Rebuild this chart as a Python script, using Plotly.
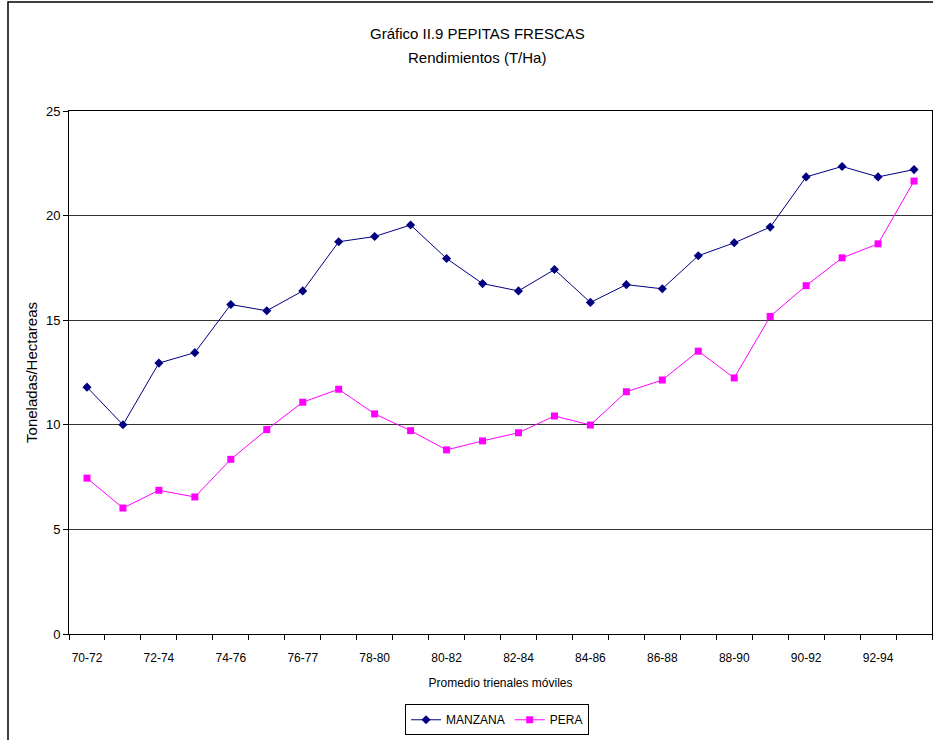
import plotly.graph_objects as go

categories = ["70-72", "71-73", "72-74", "73-75", "74-76", "75-77", "76-77", "77-79",
              "78-80", "79-81", "80-82", "81-83", "82-84", "83-85", "84-86", "85-87",
              "86-88", "87-89", "88-90", "89-91", "90-92", "91-93", "92-94", "93-95"]
manzana = [11.8, 10.0, 12.95, 13.45, 15.75, 15.45, 16.4, 18.75, 19.0, 19.55, 17.95, 16.75,
           16.4, 17.42, 15.85, 16.7, 16.5, 18.08, 18.7, 19.45, 21.85, 22.35, 21.85, 22.2]
pera = [7.45, 6.02, 6.87, 6.55, 8.35, 9.77, 11.08, 11.7, 10.52, 9.72, 8.8, 9.23,
        9.62, 10.42, 9.99, 11.58, 12.14, 13.52, 12.24, 15.18, 16.65, 17.98, 18.65, 21.65]
y_ticks = [0, 5, 10, 15, 20, 25]

FONT = "Liberation Sans, Arial, sans-serif"
xpos = list(range(len(categories)))

fig = go.Figure()
fig.add_trace(go.Scatter(
    x=xpos, y=manzana, name="MANZANA", mode="lines+markers",
    line=dict(color="#000080", width=1),
    marker=dict(symbol="diamond", size=7, color="#000080"),
))
fig.add_trace(go.Scatter(
    x=xpos, y=pera, name="PERA", mode="lines+markers",
    line=dict(color="#FF00FF", width=1),
    marker=dict(symbol="square", size=7, color="#FF00FF"),
))

fig.update_layout(
    width=933, height=740,
    margin=dict(l=69, r=1, t=111, b=106, pad=0, autoexpand=False),
    paper_bgcolor="white", plot_bgcolor="white",
    font=dict(family=FONT, size=12, color="black"),
    showlegend=True,
    legend=dict(
        orientation="h", x=0.496, xanchor="center", y=-0.164, yanchor="middle",
        bordercolor="black", borderwidth=1, font=dict(size=12, family=FONT),
        itemwidth=30, tracegroupgap=0,
    ),
    xaxis=dict(
        range=[-0.5, len(categories) - 0.5],
        tickmode="array", tickvals=xpos[::2], ticktext=categories[::2],
        ticks="outside", ticklen=13, tickcolor="rgba(0,0,0,0)",
        showline=True, linecolor="black", linewidth=1, mirror=True,
        showgrid=False, zeroline=False,
        tickfont=dict(size=12, family=FONT),
        minor=dict(tickmode="array", tickvals=[i - 0.5 for i in range(len(categories) + 1)],
                   ticks="outside", ticklen=5, tickcolor="black", showgrid=False),
        title=dict(text="Promedio trienales móviles", font=dict(size=12, family=FONT), standoff=14),
    ),
    yaxis=dict(
        range=[0, 25], tickmode="array", tickvals=y_ticks,
        ticks="outside", ticklen=5, tickcolor="black",
        showline=True, linecolor="black", linewidth=1, mirror=True,
        showgrid=True, gridcolor="#333333", gridwidth=1, zeroline=False,
        tickfont=dict(size=13, family=FONT),
        title=dict(text="Toneladas/Hectareas", font=dict(size=15, family=FONT), standoff=4),
    ),
)

fig.add_annotation(text="Gráfico II.9 PEPITAS FRESCAS", xref="paper", yref="paper",
                   x=0.473, y=(634 - 33) / 523, xanchor="center", yanchor="middle",
                   showarrow=False, font=dict(size=15, family=FONT))
fig.add_annotation(text="Rendimientos (T/Ha)", xref="paper", yref="paper",
                   x=0.473, y=(634 - 57) / 523, xanchor="center", yanchor="middle",
                   showarrow=False, font=dict(size=15, family=FONT))

# outer chart frame
fig.add_shape(type="rect", xref="paper", yref="paper",
              x0=(8 - 69) / 863, x1=1.2, y0=-0.5, y1=(634 - 2) / 523,
              line=dict(color="black", width=1.5), layer="below")

fig.write_html("out.html", config={"displayModeBar": False},
               post_script="document.body.style.margin='0';")
